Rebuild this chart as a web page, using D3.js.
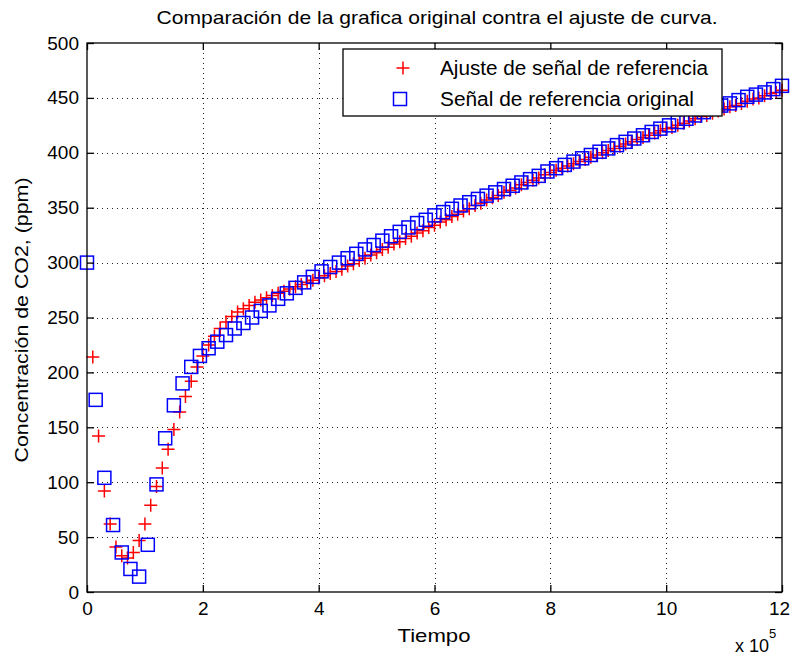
<!DOCTYPE html>
<html>
<head>
<meta charset="utf-8">
<script src="https://cdn.jsdelivr.net/npm/d3@7"></script>
<style>
  body { margin: 0; background: #ffffff; }
  text { font-family: "Liberation Sans", Arial, sans-serif; fill: #000; }
</style>
</head>
<body>
<script>
'use strict';

// tiempo (x 10^5) y concentracion de la señal original
const origTime = [0, 0.15, 0.3, 0.45, 0.6, 0.75, 0.9, 1.05, 1.2, 1.35, 1.5, 1.65, 1.8, 1.95,
  2.1, 2.25, 2.4, 2.55, 2.7, 2.85, 3.0, 3.15, 3.3, 3.45, 3.6, 3.75, 3.9, 4.05, 4.2, 4.35,
  4.5, 4.65, 4.8, 4.95, 5.1, 5.25, 5.4, 5.55, 5.7, 5.85, 6.0, 6.15, 6.3, 6.45, 6.6, 6.75,
  6.9, 7.05, 7.2, 7.35, 7.5, 7.65, 7.8, 7.95, 8.1, 8.25, 8.4, 8.55, 8.7, 8.85, 9.0, 9.15,
  9.3, 9.45, 9.6, 9.75, 9.9, 10.05, 10.2, 10.35, 10.5, 10.65, 10.8, 10.95, 11.1, 11.25,
  11.4, 11.55, 11.7, 11.85, 12.0];
const origValue = [300, 175, 104, 61, 36, 21, 14, 43, 98, 140, 170, 190, 205, 215,
  222, 228, 234, 240, 245, 250, 256, 261, 267, 272, 277, 282, 287, 292, 296, 300,
  304, 308, 312, 316, 320, 324, 328, 332, 336, 339, 343, 346, 349, 352, 355, 358,
  361, 364, 367, 370, 373, 376, 379, 383, 386, 389, 392, 395, 398, 401, 404, 407,
  410, 413, 416, 419, 422, 425, 428, 431, 434, 437, 440, 443, 445, 448,
  451, 453, 455, 458, 461];

// tiempo (x 10^5) y concentracion del ajuste de curva
const fitTime = [0.1, 0.2, 0.3, 0.4, 0.5, 0.6, 0.7, 0.8, 0.9, 1.0, 1.1, 1.2, 1.3, 1.4, 1.5,
  1.6, 1.7, 1.8, 1.9, 2.0, 2.1, 2.2, 2.3, 2.4, 2.5, 2.6, 2.7, 2.8, 2.9, 3.0, 3.1, 3.2,
  3.3, 3.4, 3.5, 3.6, 3.7, 3.8, 3.9, 4.0, 4.1, 4.2, 4.3, 4.4, 4.5, 4.6, 4.7, 4.8, 4.9,
  5.0, 5.1, 5.2, 5.3, 5.4, 5.5, 5.6, 5.7, 5.8, 5.9, 6.0, 6.1, 6.2, 6.3, 6.4, 6.5, 6.6,
  6.7, 6.8, 6.9, 7.0, 7.1, 7.2, 7.3, 7.4, 7.5, 7.6, 7.7, 7.8, 7.9, 8.0, 8.1, 8.2, 8.3,
  8.4, 8.5, 8.6, 8.7, 8.8, 8.9, 9.0, 9.1, 9.2, 9.3, 9.4, 9.5, 9.6, 9.7, 9.8, 9.9, 10.0,
  10.1, 10.2, 10.3, 10.4, 10.5, 10.6, 10.7, 10.8, 10.9, 11.0, 11.1, 11.2, 11.3, 11.4,
  11.5, 11.6, 11.7, 11.8, 11.9, 12.0];
const fitValue = [214, 142, 92, 62, 41, 33, 31, 36, 47, 62, 79, 96, 113, 130, 148,
  164, 178, 192, 205, 215, 225, 233, 240, 246, 251, 255, 258, 261, 264, 266, 268, 270,
  272, 274, 276, 278, 280, 282, 284, 286, 288, 290, 292, 294, 297, 299, 302, 304, 307,
  309, 312, 314, 317, 319, 322, 324, 327, 329, 332, 334, 337, 339, 342, 344, 347, 349,
  352, 354, 357, 359, 361, 364, 366, 368, 371, 373, 375, 377, 380, 382, 384, 386, 388,
  390, 392, 394, 396, 398, 400, 402, 404, 406, 408, 410, 412, 414, 416, 418, 420, 422,
  423, 425, 427, 429, 431, 433, 434, 436, 438, 440, 442, 443, 445, 447,
  449, 450, 452, 454, 455, 457];

const xTicks = [0, 2, 4, 6, 8, 10, 12];
const yTicks = [0, 50, 100, 150, 200, 250, 300, 350, 400, 450, 500];
const legendLabels = ["Ajuste de señal de referencia", "Señal de referencia original"];

(function () {

  const left = 87, right = 782, top = 43, bottom = 592;
  let svgContainer = "";

  svgContainer = d3.select('body')
    .append('svg')
    .attr('width', 791)
    .attr('height', 657);

  svgContainer.append('rect')
    .attr('width', 791)
    .attr('height', 657)
    .attr('fill', '#ffffff');

  const xScale = d3.scaleLinear().domain([0, 12]).range([left, right]);
  const yScale = d3.scaleLinear().domain([0, 500]).range([bottom, top]);

  drawGrid();
  plotData();
  drawAxes();
  createLegend();
  makeLabels();

  function drawGrid() {
    let grid = svgContainer.append('g')
      .attr('stroke', '#222')
      .attr('stroke-width', 1)
      .attr('stroke-dasharray', '1,4');

    grid.selectAll('.vgrid')
      .data(xTicks.slice(1, -1))
      .enter()
      .append('line')
      .attr('x1', (d) => Math.round(xScale(d)) + 0.5)
      .attr('x2', (d) => Math.round(xScale(d)) + 0.5)
      .attr('y1', top)
      .attr('y2', bottom);

    grid.selectAll('.hgrid')
      .data(yTicks.slice(1, -1))
      .enter()
      .append('line')
      .attr('x1', left)
      .attr('x2', right)
      .attr('y1', (d) => Math.round(yScale(d)) + 0.5)
      .attr('y2', (d) => Math.round(yScale(d)) + 0.5);
  }

  function plotData() {
    let fit = fitTime.map((t, i) => ({ t: t, v: fitValue[i] }));
    let orig = origTime.map((t, i) => ({ t: t, v: origValue[i] }));

    svgContainer.append('g')
      .selectAll('path')
      .data(fit)
      .enter()
      .append('path')
      .attr('d', 'M-6.5,0H6.5M0,-6.5V6.5')
      .attr('transform', (d) => 'translate(' + xScale(d.t) + ',' + yScale(d.v) + ')')
      .attr('stroke', '#ff0000')
      .attr('stroke-width', 1.5)
      .attr('fill', 'none');

    svgContainer.append('g')
      .selectAll('rect')
      .data(orig)
      .enter()
      .append('rect')
      .attr('x', (d) => xScale(d.t) - 6.5)
      .attr('y', (d) => yScale(d.v) - 6.5)
      .attr('width', 13)
      .attr('height', 13)
      .attr('stroke', '#0000ff')
      .attr('stroke-width', 1.5)
      .attr('fill', 'none');
  }

  function drawAxes() {
    let fmt = d3.format('d');

    let xAxis = d3.axisBottom(xScale).tickValues(xTicks).tickFormat(fmt)
      .tickSize(-7).tickPadding(10);
    let gx = svgContainer.append('g')
      .attr('transform', 'translate(0,' + bottom + ')')
      .call(xAxis);

    let yAxis = d3.axisLeft(yScale).tickValues(yTicks).tickFormat(fmt)
      .tickSize(-7).tickPadding(8);
    let gy = svgContainer.append('g')
      .attr('transform', 'translate(' + left + ',0)')
      .call(yAxis);

    let gt = svgContainer.append('g')
      .attr('transform', 'translate(0,' + top + ')')
      .call(d3.axisTop(xScale).tickValues(xTicks).tickFormat('').tickSize(-7));
    let gr = svgContainer.append('g')
      .attr('transform', 'translate(' + right + ',0)')
      .call(d3.axisRight(yScale).tickValues(yTicks).tickFormat('').tickSize(-7));

    [gx, gy, gt, gr].forEach((g) => {
      g.select('.domain').remove();
      g.selectAll('line').attr('stroke', '#000').attr('stroke-width', 1.3);
      g.selectAll('text')
        .style('font-family', '"Liberation Sans", Arial, sans-serif')
        .style('font-size', '19px')
        .attr('fill', '#000');
    });

    // el "12" queda pegado al borde derecho
    gx.selectAll('text').filter((d) => d == 12).attr('dx', -3);

    svgContainer.append('rect')
      .attr('x', left)
      .attr('y', top)
      .attr('width', right - left)
      .attr('height', bottom - top)
      .attr('fill', 'none')
      .attr('stroke', '#000')
      .attr('stroke-width', 1.3);
  }

  function createLegend() {
    let box = { x: 343, y: 49, w: 379, h: 67 };
    svgContainer.append('rect')
      .attr('x', box.x)
      .attr('y', box.y)
      .attr('width', box.w)
      .attr('height', box.h)
      .attr('fill', '#ffffff')
      .attr('stroke', '#000')
      .attr('stroke-width', 1.3);

    let rowY = [68, 99];

    svgContainer.append('path')
      .attr('d', 'M-6.5,0H6.5M0,-6.5V6.5')
      .attr('transform', 'translate(403,' + rowY[0] + ')')
      .attr('stroke', '#ff0000')
      .attr('stroke-width', 1.5);

    svgContainer.append('rect')
      .attr('x', 400 - 6.5)
      .attr('y', rowY[1] - 6.5)
      .attr('width', 13)
      .attr('height', 13)
      .attr('fill', 'none')
      .attr('stroke', '#0000ff')
      .attr('stroke-width', 1.5);

    svgContainer.selectAll('.legtext')
      .data(legendLabels)
      .enter()
      .append('text')
      .attr('x', 440)
      .attr('y', (d, i) => rowY[i])
      .attr('dy', '0.35em')
      .attr('textLength', (d, i) => i == 0 ? 268 : 254)
      .attr('lengthAdjust', 'spacingAndGlyphs')
      .style('font-size', '20px')
      .text((d) => d);
  }

  function makeLabels() {
    svgContainer.append('text')
      .attr('x', 437)
      .attr('y', 17)
      .attr('dy', '0.35em')
      .attr('text-anchor', 'middle')
      .attr('textLength', 561)
      .attr('lengthAdjust', 'spacingAndGlyphs')
      .style('font-size', '19px')
      .text('Comparación de la grafica original contra el ajuste de curva.');

    svgContainer.append('text')
      .attr('transform', 'translate(21,320)rotate(-90)')
      .attr('dy', '0.35em')
      .attr('text-anchor', 'middle')
      .attr('textLength', 285)
      .attr('lengthAdjust', 'spacingAndGlyphs')
      .style('font-size', '19px')
      .text('Concentración de CO2, (ppm)');

    svgContainer.append('text')
      .attr('x', 434)
      .attr('y', 635)
      .attr('dy', '0.35em')
      .attr('text-anchor', 'middle')
      .attr('textLength', 73)
      .attr('lengthAdjust', 'spacingAndGlyphs')
      .style('font-size', '19px')
      .text('Tiempo');

    let mult = svgContainer.append('text')
      .attr('x', 735)
      .attr('y', 652)
      .style('font-size', '18px');
    mult.append('tspan').text('x 10');
    mult.append('tspan')
      .attr('dy', -14)
      .style('font-size', '13px')
      .text('5');
  }
})();
</script>
</body>
</html>
